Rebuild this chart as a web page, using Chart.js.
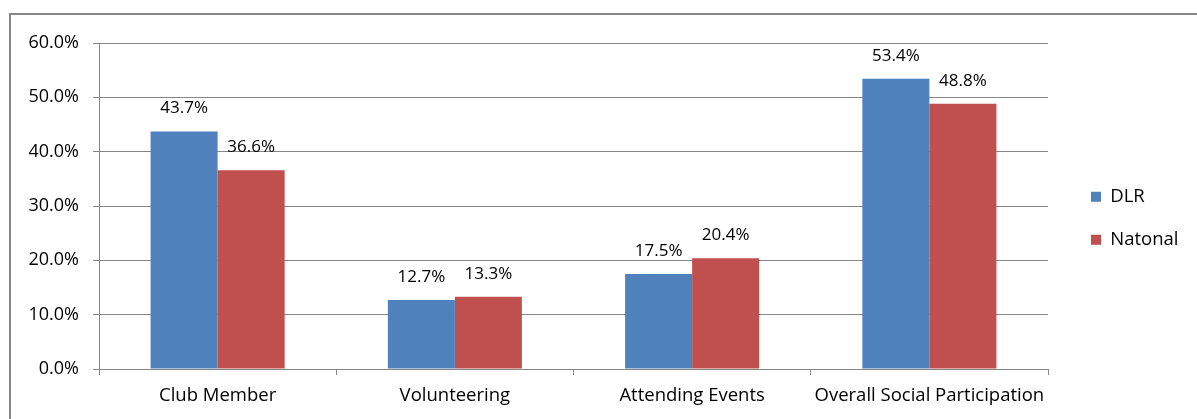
<!DOCTYPE html>
<html>
<head>
<meta charset="utf-8">
<script src="https://cdn.jsdelivr.net/npm/chart.js@4/dist/chart.umd.min.js"></script>
<style>
  html, body { margin: 0; padding: 0; background: #ffffff; }
  #wrap { position: relative; width: 1197px; height: 419px; overflow: hidden; }
  #frame {
    position: absolute; left: 9px; top: 13px; width: 1200px; height: 420px;
    border: 2px solid #868686; box-sizing: border-box;
  }
  canvas { position: absolute; left: 0; top: 0; }
</style>
</head>
<body>
<div id="wrap">
  <div id="frame"></div>
  <canvas id="chart" width="1197" height="419"></canvas>
</div>
<script>
const categories = ["Club Member", "Volunteering", "Attending Events", "Overall Social Participation"];
const dlrValues = [43.7, 12.7, 17.5, 53.4];
const nationalValues = [36.6, 13.3, 20.4, 48.8];
const seriesNames = ["DLR", "Natonal"];
const yTicks = [0, 10, 20, 30, 40, 50, 60];

const colors = {
  dlr: "#4f81bd",
  national: "#c0504d",
  grid: "#868686",
  text: "#000000",
};

const fontFamily = "'Open Sans', 'Liberation Sans', sans-serif";
const legendFontSize = 18.5;
const legendGap = 43;

const valueLabels = {
  id: "valueLabels",
  afterDatasetsDraw(chart) {
    const ctx = chart.ctx;
    ctx.save();
    ctx.font = `17px ${fontFamily}`;
    ctx.fillStyle = colors.text;
    ctx.textAlign = "center";
    ctx.textBaseline = "middle";
    chart.data.datasets.forEach((dataset, i) => {
      chart.getDatasetMeta(i).data.forEach((bar, j) => {
        ctx.fillText(`${dataset.data[j].toFixed(1)}%`, bar.x, bar.y - 23);
      });
    });
    ctx.restore();
  },
};

// keep the legend column at a fixed width and nudge it to where the original sits
const legendPlacement = {
  id: "legendPlacement",
  afterInit(chart) {
    const fit = chart.legend.fit;
    chart.legend.fit = function () {
      fit.call(this);
      this.width = 149;
    };
  },
  afterLayout(chart) {
    const legend = chart.legend;
    legend.left += 18.5;
    legend.right += 18.5;
    legend.top += 120;
    legend.bottom += 120;
  },
};

new Chart(document.getElementById("chart"), {
  type: "bar",
  data: {
    labels: categories,
    datasets: [
      {
        label: seriesNames[0],
        data: dlrValues,
        backgroundColor: colors.dlr,
        borderWidth: 0,
      },
      {
        label: seriesNames[1],
        data: nationalValues,
        backgroundColor: colors.national,
        borderWidth: 0,
      },
    ],
  },
  options: {
    responsive: false,
    animation: false,
    layout: { padding: { top: 43, right: 0, bottom: 0, left: 0 } },
    datasets: {
      bar: { categoryPercentage: 0.565, barPercentage: 1 },
    },
    plugins: {
      legend: {
        position: "right",
        align: "start",
        labels: {
          boxWidth: 10,
          boxHeight: 10,
          padding: legendGap - legendFontSize,
          color: colors.text,
          font: { family: fontFamily, size: legendFontSize },
        },
      },
      tooltip: { enabled: false },
    },
    scales: {
      x: {
        afterFit: (scale) => { scale.height = 50; },
        grid: {
          drawOnChartArea: false,
          drawTicks: true,
          tickLength: 6,
          color: colors.grid,
        },
        border: { color: colors.grid, width: 1 },
        ticks: {
          color: colors.text,
          padding: 10,
          font: { family: fontFamily, size: 18.5 },
        },
      },
      y: {
        min: yTicks[0],
        max: yTicks[yTicks.length - 1],
        afterFit: (scale) => { scale.width = 99; },
        afterBuildTicks: (scale) => {
          scale.ticks = yTicks.map((v) => ({ value: v }));
        },
        grid: {
          color: colors.grid,
          tickLength: 6,
          drawTicks: true,
        },
        border: { color: colors.grid, width: 1 },
        ticks: {
          color: colors.text,
          padding: 14,
          font: { family: fontFamily, size: 18 },
          callback: (value) => `${Number(value).toFixed(1)}%`,
        },
      },
    },
  },
  plugins: [valueLabels, legendPlacement],
});
</script>
</body>
</html>
